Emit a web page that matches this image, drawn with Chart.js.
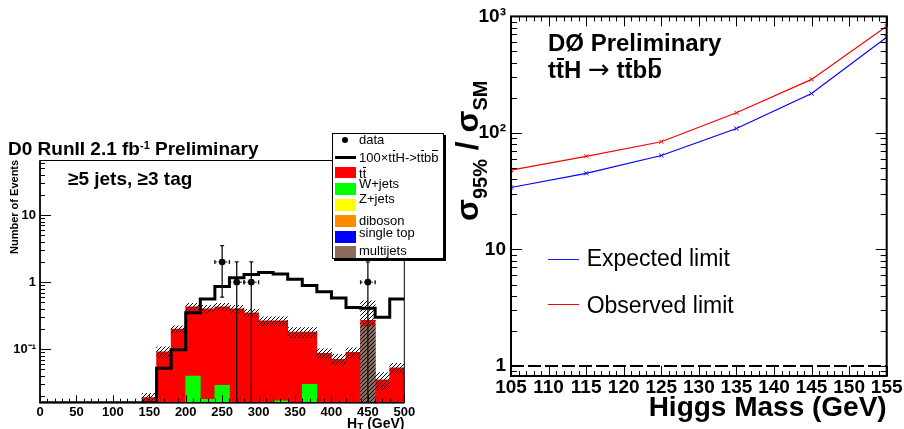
<!DOCTYPE html>
<html>
<head>
<meta charset="utf-8">
<title>ttH search: HT distribution and limits</title>
<script src="https://cdn.jsdelivr.net/npm/chart.js@4.4.1/dist/chart.umd.min.js"></script>
<style>
  html, body { margin: 0; padding: 0; background: #fff; }
  #page { position: relative; width: 904px; height: 429px; overflow: hidden;
          font-family: "Liberation Sans", Arial, Helvetica, sans-serif; color: #000; }
  canvas { position: absolute; top: 0; }
  #htChart { left: 0; }
  #limitChart { left: 460px; }
  .t { position: absolute; white-space: nowrap; line-height: 1; }
  .b { font-weight: bold; }
  .ob { position: relative; }
  .ob::after { content: ''; position: absolute; left: 0.06em; right: 0.02em; top: 0.06em; border-top: 1px solid #000; }
  .big .ob::after { border-top-width: 2px; }
  .arrow { font-family: "DejaVu Sans", sans-serif; font-weight: normal; font-size: 26px; }
  .rot { transform-origin: 0 0; transform: rotate(-90deg); }
  #htLegend { position: absolute; left: 332px; top: 133px; width: 112px; height: 126px; box-sizing: border-box;
              border: 1px solid #000; box-shadow: 2px 2px 0 #000; background: #fff; font-size: 13px; }
  #htLegend .sw { position: absolute; left: 2px; width: 21px; height: 11.5px; }
  #htLegend .t { left: 26px; }
  .key { position: absolute; left: 548px; width: 31px; height: 1.5px; }
</style>
</head>
<body>
<div id="page">
  <canvas id="htChart" width="460" height="429"></canvas>
  <canvas id="limitChart" width="444" height="429"></canvas>

  <!-- left panel texts -->
  <div class="t b" style="left:8px; top:138.6px; font-size:19px;">D0 RunII 2.1 fb<span style="font-size:11px; position:relative; top:-6px;">-1</span> Preliminary</div>
  <div class="t b" style="left:68px; top:169.2px; font-size:19px;">&ge;5 jets, &ge;3 tag</div>
  <div class="t b rot" style="left:9px; top:254px; font-size:11px;">Number of Events</div>
  <div class="t b" style="right:499.5px; top:416.4px; font-size:14px;">H<span style="font-size:10px; position:relative; top:3px;">T</span> (GeV)</div>

  <div id="htLegend">
    <div style="position:absolute; left:9px; top:3px; width:6px; height:6px; border-radius:50%; background:#000;"></div>
    <div class="t" style="top:-1px;">data</div>
    <div style="position:absolute; left:2px; top:21.5px; width:21px; height:3px; background:#000;"></div>
    <div class="t" style="top:16.7px;">100&times;t<span class="ob">t</span>H-&gt;t<span class="ob">t</span>b<span class="ob">b</span></div>
    <div class="sw" style="top:32.7px; background:#ff0000;"></div>
    <div class="t" style="top:33.3px;">t<span class="ob">t</span></div>
    <div class="sw" style="top:49.3px; background:#00ff00;"></div>
    <div class="t" style="top:43.3px;">W+jets</div>
    <div class="sw" style="top:65px; background:#ffff00;"></div>
    <div class="t" style="top:58.3px;">Z+jets</div>
    <div class="sw" style="top:81px; background:#ff8c00;"></div>
    <div class="t" style="top:80px;">diboson</div>
    <div class="sw" style="top:97px; background:#0000ff;"></div>
    <div class="t" style="top:91.7px;">single top</div>
    <div class="sw" style="top:112px; background:#8b6b5b;"></div>
    <div class="t" style="top:110px;">multijets</div>
  </div>

  <!-- right panel texts -->
  <div class="t b" style="left:548px; top:31.4px; font-size:24px;">D&Oslash; Preliminary</div>
  <div class="t b big" style="left:548px; top:56.2px; font-size:24px;">t<span class="ob">t</span>H <span class="arrow">&rarr;</span> t<span class="ob">t</span>b<span class="ob">b</span></div>
  <div class="key" style="top:258.5px; background:#1a1aff;"></div>
  <div class="t" style="left:586.7px; top:247.2px; font-size:23px;">Expected limit</div>
  <div class="key" style="top:303.5px; background:#ff0000;"></div>
  <div class="t" style="left:586.7px; top:293.8px; font-size:23px;">Observed limit</div>
  <div class="t b" style="right:17.3px; top:392.5px; font-size:28px;">Higgs Mass (GeV)</div>
  <div class="t b rot" style="left:450.9px; top:221px; font-size:32px;">&sigma;<span style="font-size:20px; position:relative; top:9px;">95%</span> / &sigma;<span style="font-size:20px; position:relative; top:9px;">SM</span></div>
</div>

<script>
// ---- left panel: HT, >=5 jets, >=3 tags (20 GeV bins) ----
const htEdges = [0, 20, 40, 60, 80, 100, 120, 140, 160, 180, 200, 220, 240, 260, 280, 300, 320, 340, 360, 380, 400, 420, 440, 460, 480, 500];
const ttbar     = [null, null, null, null, null, null, null, 0.019, 0.092, 0.20, 0.39, 0.382, 0.401, 0.40, 0.35, 0.265, 0.248, 0.18, 0.15, 0.087, 0.071, 0.09, 0.05, 0.035, 0.053];
const wjets     = [null, null, null, null, null, null, null, null, null, null, 0.040, 0.018, 0.029, null, null, null, 0.017, null, 0.030, null, null, null, null, null, null];
const multijets = [null, null, null, null, null, null, null, null, null, null, null, null, null, null, null, null, null, null, null, null, null, null, 0.22, null, null];
const mcError   = [null, null, null, null, null, null, null, 0.003, 0.017, 0.024, 0.055, 0.053, 0.055, 0.053, 0.045, 0.04, 0.04, 0.03, 0.03, 0.015, 0.013, 0.015, 0.255, 0.01, 0.009];
const signalTTH = [null, null, null, null, null, null, null, null, 0.052, 0.098, 0.35, 0.56, 0.86, 1.16, 1.30, 1.39, 1.32, 1.11, 0.89, 0.72, 0.58, 0.42, 0.41, 0.30, 0.56];
const dataHT     = [250, 270, 290, 450];
const dataEvents = [2, 1, 1, 1];
const dataLow    = [0.6, 0, 0, 0];
const dataHigh   = [3.5, 2, 2, 2];
const htTicks = [0, 50, 100, 150, 200, 250, 300, 350, 400, 450, 500];
const eventTicks = [0.1, 1, 10];
const eventTickLabels = ['10⁻¹', '1', '10'];

// ---- right panel: 95% CL limit / SM ----
const higgsMass = [105, 115, 125, 135, 145, 155];
const expectedLimit = [34, 45, 64, 109, 218, 662];
const observedLimit = [48, 63, 84, 149, 288, 823];
const massTicks = [105, 110, 115, 120, 125, 130, 135, 140, 145, 150, 155];
const limitTicks = [1, 10, 100, 1000];
const limitTickLabels = ['1', '10', '10²', '10³'];
const smRatio = 1;

const FONT = '"Liberation Sans", Arial, Helvetica, sans-serif';
const HT_MIN = 0.016, HT_MAX = 65;
const LIM_MIN = 0.82, LIM_MAX = 1000;

function steps(a, b, s) {
    const out = [];
    for (let v = a; v <= b + 1e-9; v += s) out.push(+v.toFixed(6));
    return out;
}

function logMinor(min, max) {
    const out = [];
    for (let d = Math.floor(Math.log10(min)); d <= Math.ceil(Math.log10(max)); d++) {
        for (let m = 2; m <= 9; m++) {
            const v = m * Math.pow(10, d);
            if (v > min && v < max) out.push(v);
        }
    }
    return out;
}

function labelFor(ticks, labels) {
    return v => {
        const i = ticks.findIndex(t => Math.abs(t - v) < t * 1e-6);
        return i < 0 ? '' : labels[i];
    };
}

// inward ticks + frame, ROOT style
function rootFrame(cfg) {
    return {
        id: 'rootFrame',
        afterDatasetsDraw(chart) {
            const { ctx, chartArea: a, scales: { x, y } } = chart;
            ctx.save();
            ctx.strokeStyle = '#000';
            ctx.lineWidth = 1;
            ctx.setLineDash([]);
            ctx.beginPath();
            const xt = (vals, len) => vals.forEach(v => {
                const px = Math.round(x.getPixelForValue(v)) + 0.5;
                ctx.moveTo(px, a.bottom); ctx.lineTo(px, a.bottom - len);
                if (cfg.mirror) { ctx.moveTo(px, a.top); ctx.lineTo(px, a.top + len); }
            });
            const yt = (vals, len) => vals.forEach(v => {
                const py = Math.round(y.getPixelForValue(v)) + 0.5;
                ctx.moveTo(a.left, py); ctx.lineTo(a.left + len, py);
                if (cfg.mirror) { ctx.moveTo(a.right, py); ctx.lineTo(a.right - len, py); }
            });
            xt(cfg.xMajor, cfg.xMajorLen);
            xt(cfg.xMinor, cfg.xMinorLen);
            yt(cfg.yMajor, cfg.yMajorLen);
            yt(cfg.yMinor, cfg.yMinorLen);
            ctx.stroke();

            ctx.lineWidth = cfg.frameWidth;
            ctx.strokeRect(a.left, a.top, a.right - a.left, a.bottom - a.top);
            ctx.lineWidth = cfg.axisWidth;
            ctx.beginPath();
            ctx.moveTo(a.left, a.top); ctx.lineTo(a.left, a.bottom); ctx.lineTo(a.right, a.bottom);
            ctx.stroke();
            ctx.restore();
        }
    };
}

const dataErrorBars = {
    id: 'dataErrorBars',
    afterDatasetsDraw(chart) {
        const { ctx, scales: { x, y } } = chart;
        const half = (htEdges[1] - htEdges[0]) / 2;
        ctx.save();
        dataHT.forEach((h, i) => {
            const px = x.getPixelForValue(h);
            const py = y.getPixelForValue(dataEvents[i]);
            const top = y.getPixelForValue(dataHigh[i]);
            const bot = y.getPixelForValue(dataLow[i]);
            ctx.strokeStyle = '#111';
            ctx.lineWidth = 1.3;
            ctx.setLineDash([]);
            ctx.beginPath();
            ctx.moveTo(px, top); ctx.lineTo(px, bot);
            ctx.moveTo(px - 2, top); ctx.lineTo(px + 2, top);
            if (dataLow[i] > 0) { ctx.moveTo(px - 2, bot); ctx.lineTo(px + 2, bot); }
            const l = x.getPixelForValue(h - half), r = x.getPixelForValue(h + half);
            ctx.moveTo(l, py - 2); ctx.lineTo(l, py + 2);
            ctx.moveTo(r, py - 2); ctx.lineTo(r, py + 2);
            ctx.stroke();
            ctx.lineWidth = 1;
            ctx.setLineDash([2, 1.5]);
            ctx.beginPath();
            ctx.moveTo(l, py); ctx.lineTo(r, py);
            ctx.stroke();
        });
        ctx.restore();
    }
};

function makeHatch(ctx) {
    const s = 4;
    const c = document.createElement('canvas');
    c.width = s; c.height = s;
    const g = c.getContext('2d');
    g.strokeStyle = '#000';
    g.lineWidth = 1;
    g.beginPath();
    g.moveTo(0, s); g.lineTo(s, 0);
    g.moveTo(-1, 1); g.lineTo(1, -1);
    g.moveTo(s - 1, s + 1); g.lineTo(s + 1, s - 1);
    g.stroke();
    return ctx.createPattern(c, 'repeat');
}

function drawHT() {
    const canvas = document.getElementById('htChart');
    const hatch = makeHatch(canvas.getContext('2d'));
    const centers = htEdges.slice(0, -1).map((e, i) => (e + htEdges[i + 1]) / 2);

    // cumulative stack, drawn back to front like THStack
    const mj = i => multijets[i] || 0;
    const wj = i => wjets[i] || 0;
    const tt = i => ttbar[i] || 0;
    const total = i => mj(i) + wj(i) + tt(i);

    const ttBars = centers.map((x, i) => ({ x, y: ttbar[i] == null ? null : total(i) }));
    const wBars = centers.map((x, i) => ({ x, y: wjets[i] == null ? null : mj(i) + wj(i) }));
    const mjBars = centers.map((x, i) => ({ x, y: multijets[i] }));
    const band = centers.map((x, i) => ({
        x, y: mcError[i] == null ? null : [Math.max(total(i) - mcError[i], HT_MIN), total(i) + mcError[i]]
    }));
    const signalSteps = centers.map((x, i) => ({ x: htEdges[i], y: signalTTH[i] == null ? HT_MIN : signalTTH[i] }));
    signalSteps.push({ x: htEdges[htEdges.length - 1], y: signalTTH[signalTTH.length - 1] });

    new Chart(canvas, {
        type: 'bar',
        data: {
            datasets: [
                { type: 'scatter', label: 'data', data: dataHT.map((x, i) => ({ x, y: dataEvents[i] })),
                  pointRadius: 3.3, pointBackgroundColor: '#000', pointBorderWidth: 0, order: 0 },
                { type: 'line', label: '100xttH', data: signalSteps, stepped: true, borderColor: '#000',
                  borderWidth: 3, pointRadius: 0, fill: false, order: 1 },
                { label: 'MC uncertainty', data: band, backgroundColor: hatch, order: 2 },
                { label: 'multijets', data: mjBars, backgroundColor: '#8b6b5b', order: 3 },
                { label: 'W+jets', data: wBars, backgroundColor: '#00ff00', order: 3 },
                { label: 'ttbar', data: ttBars, backgroundColor: '#ff0000', order: 4 }
            ]
        },
        options: {
            responsive: false,
            animation: false,
            events: [],
            layout: { padding: { left: 0, top: 160.5, right: 55.7, bottom: 0 } },
            datasets: { bar: { grouped: false, barPercentage: 1, categoryPercentage: 1, borderWidth: 0 } },
            plugins: { legend: { display: false }, tooltip: { enabled: false } },
            scales: {
                x: {
                    type: 'linear', min: 0, max: 500, offset: false,
                    grid: { display: false, drawTicks: false, offset: false },
                    border: { display: false },
                    afterBuildTicks: s => { s.ticks = htTicks.map(v => ({ value: v })); },
                    afterFit: s => { s.height = 26.3; },
                    ticks: { autoSkip: false, maxRotation: 0, minRotation: 0, padding: 2, color: '#000',
                             font: { family: FONT, size: 13, weight: 'bold' } }
                },
                y: {
                    type: 'logarithmic', min: HT_MIN, max: HT_MAX, beginAtZero: false,
                    grid: { display: false, drawTicks: false },
                    border: { display: false },
                    afterBuildTicks: s => { s.ticks = eventTicks.map(v => ({ value: v })); },
                    afterFit: s => { s.width = 40; },
                    ticks: { autoSkip: false, padding: 4, color: '#000',
                             font: { family: FONT, size: 13, weight: 'bold' },
                             callback: labelFor(eventTicks, eventTickLabels) }
                }
            }
        },
        plugins: [
            rootFrame({
                mirror: false,
                xMajor: htTicks, xMajorLen: 7.5,
                xMinor: steps(0, 500, 10).filter(v => v % 50 !== 0), xMinorLen: 4,
                yMajor: eventTicks, yMajorLen: 11,
                yMinor: logMinor(HT_MIN, HT_MAX), yMinorLen: 5,
                frameWidth: 1, axisWidth: 1.6
            }),
            dataErrorBars
        ]
    });
}

function drawLimits() {
    const pts = vals => higgsMass.map((m, i) => ({ x: m, y: vals[i] }));
    const line = (label, vals, color) => ({
        label, data: pts(vals), borderColor: color, borderWidth: 1.2, tension: 0, fill: false,
        pointStyle: 'crossRot', pointRadius: 3, pointBorderColor: color, pointBorderWidth: 1
    });

    new Chart(document.getElementById('limitChart'), {
        type: 'line',
        data: {
            datasets: [
                line('Expected limit', expectedLimit, '#0000ff'),
                line('Observed limit', observedLimit, '#ff0000'),
                { label: 'SM', data: [{ x: massTicks[0], y: smRatio }, { x: massTicks[massTicks.length - 1], y: smRatio }],
                  borderColor: '#000', borderWidth: 2, borderDash: [13, 4], pointRadius: 0, fill: false }
            ]
        },
        options: {
            responsive: false,
            animation: false,
            events: [],
            layout: { padding: { left: 0, top: 15.9, right: 17.3, bottom: 0 } },
            plugins: { legend: { display: false }, tooltip: { enabled: false } },
            scales: {
                x: {
                    type: 'linear', min: 105, max: 155,
                    grid: { display: false, drawTicks: false },
                    border: { display: false },
                    afterBuildTicks: s => { s.ticks = massTicks.map(v => ({ value: v })); },
                    afterFit: s => { s.height = 53; },
                    ticks: { autoSkip: false, maxRotation: 0, minRotation: 0, padding: 0, color: '#000',
                             font: { family: FONT, size: 19, weight: 'bold' } }
                },
                y: {
                    type: 'logarithmic', min: LIM_MIN, max: LIM_MAX,
                    grid: { display: false, drawTicks: false },
                    border: { display: false },
                    afterBuildTicks: s => { s.ticks = limitTicks.map(v => ({ value: v })); },
                    afterFit: s => { s.width = 51; },
                    ticks: { autoSkip: false, padding: 5, color: '#000',
                             font: { family: FONT, size: 19, weight: 'bold' },
                             callback: labelFor(limitTicks, limitTickLabels) }
                }
            }
        },
        plugins: [
            rootFrame({
                mirror: true,
                xMajor: massTicks, xMajorLen: 10,
                xMinor: steps(105, 155, 1).filter(v => v % 5 !== 0), xMinorLen: 5,
                yMajor: limitTicks, yMajorLen: 11,
                yMinor: logMinor(LIM_MIN, LIM_MAX), yMinorLen: 6,
                frameWidth: 2, axisWidth: 2
            })
        ]
    });
}

drawHT();
drawLimits();
</script>
</body>
</html>
